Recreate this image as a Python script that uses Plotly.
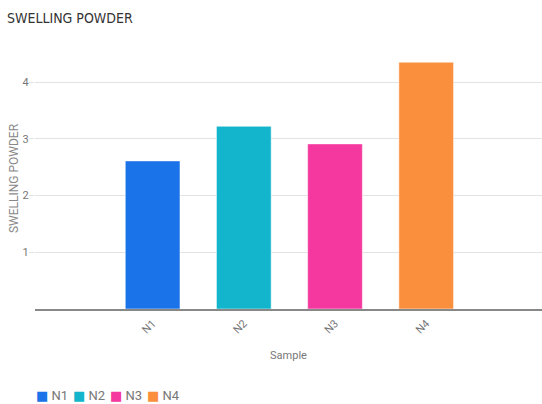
import plotly.graph_objects as go

categories = ["N1", "N2", "N3", "N4"]
values = [2.61, 3.22, 2.91, 4.35]
colors = ["#1A73E8", "#12B5CB", "#F538A0", "#FA903E"]
y_ticks = [1, 2, 3, 4]

fig = go.Figure()
legend_names = ["legend", "legend2", "legend3", "legend4"]
for cat, val, col in zip(categories, values, colors):
    fig.add_trace(go.Bar(
        x=[cat], y=[val], name=cat, width=0.6, showlegend=False,
        marker=dict(color=col, line=dict(color="rgba(255,255,255,0.5)", width=1)),
    ))
# legend entries: coloured square glyph + name (symbol itself hidden)
for cat, col, lg in zip(categories, colors, legend_names):
    fig.add_trace(go.Scatter(
        x=[None], y=[None], mode="markers",
        marker=dict(opacity=0, size=1, color="rgba(0,0,0,0)"),
        name=f"<span style='color:{col}'>■</span> {cat}", legend=lg, showlegend=True,
        hoverinfo="skip",
    ))

legend_x0 = (-4 - 35) / 507
legend_step = 37 / 507
legend_common = dict(orientation="h", xanchor="left", yref="container", y=1 - 395 / 404,
                     yanchor="middle",
                     font=dict(size=13, color="#777", family="Roboto, DejaVu Sans, sans-serif"),
                     itemwidth=30, bgcolor="rgba(0,0,0,0)")
layout_legends = {}
for i, lg in enumerate(legend_names):
    layout_legends[lg] = dict(legend_common, x=legend_x0 + i * legend_step)

fig.update_layout(
    width=542, height=404,
    margin=dict(l=35, r=0, t=48, b=95, autoexpand=False),
    paper_bgcolor="white", plot_bgcolor="white",
    barmode="overlay",
    font=dict(family="Roboto, Arial, sans-serif", color="#666"),
    title=dict(text="SWELLING POWDER", x=0.013, xanchor="left", y=0.955, yanchor="middle",
               font=dict(size=14, color="#333", family="DejaVu Sans Condensed, Roboto, sans-serif")),
    xaxis=dict(
        type="category", categoryorder="array", categoryarray=categories,
        range=[-1.29, 4.27], tickangle=-45, tickfont=dict(size=11, color="#777"),
        ticklabelstandoff=2,
        showline=True, linecolor="#888", linewidth=1.5, showgrid=False, automargin=False,
        title=dict(text="Sample", font=dict(size=11, color="#777"), standoff=16),
    ),
    yaxis=dict(
        range=[0, 4.6], tickvals=y_ticks, showgrid=True, gridcolor="#e3e3e3", gridwidth=1,
        ticks="outside", ticklen=5, tickcolor="#e3e3e3", zeroline=False, automargin=False,
        tickfont=dict(size=11, color="#777"), ticklabelstandoff=-2,
        title=dict(text="SWELLING POWDER", font=dict(size=12, color="#888"), standoff=1),
    ),
    showlegend=True,
    **layout_legends,
)

fig.write_html("out.html", config={"displayModeBar": False},
               post_script="document.body.style.margin='0';")
